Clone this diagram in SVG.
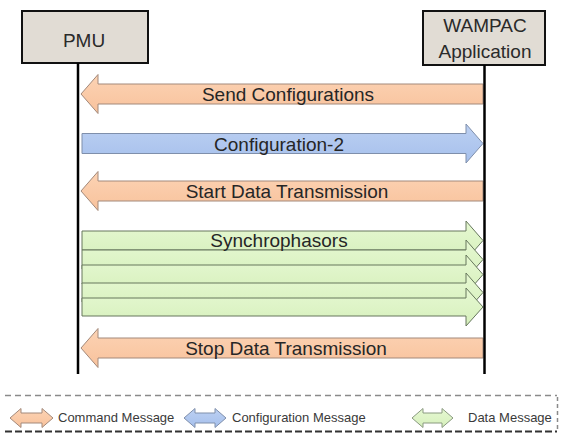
<svg xmlns="http://www.w3.org/2000/svg" width="563" height="439" viewBox="0 0 563 439">
<defs>
<linearGradient id="gOr" x1="0" y1="0" x2="0" y2="1"><stop offset="0" stop-color="#fcd3b4"/><stop offset="1" stop-color="#f8c29c"/></linearGradient>
<linearGradient id="gBl" x1="0" y1="0" x2="0" y2="1"><stop offset="0" stop-color="#bcd0f2"/><stop offset="1" stop-color="#a6c0ec"/></linearGradient>
<linearGradient id="gGr" x1="0" y1="0" x2="0" y2="1"><stop offset="0" stop-color="#e6f8d2"/><stop offset="1" stop-color="#d6f0bc"/></linearGradient>
</defs>
<style>
.box{fill:#e1dcd4;stroke:#111;stroke-width:2}
.nt{font-family:"Liberation Sans",Arial,sans-serif;font-size:19px;fill:#2a2a2a;text-anchor:middle}
.life{stroke:#000;stroke-width:2.5;fill:none}
.cmd{fill:url(#gOr);stroke:#a3897a;stroke-width:1}
.cfg{fill:url(#gBl);stroke:#7f8fab;stroke-width:1}
.dat{fill:url(#gGr);stroke:#66775c;stroke-width:1}
.lbl{font-family:"Liberation Sans",Arial,sans-serif;font-size:19px;fill:#262626;text-anchor:middle}
.lg{font-family:"Liberation Sans",Arial,sans-serif;font-size:13px;fill:#3a3a3a}
</style>
<rect width="563" height="439" fill="#ffffff"/>
<g id="pmu">
<rect class="box" x="22" y="11" width="126" height="52"/>
<text class="nt" x="84" y="47">PMU</text>
</g>
<g id="wampac">
<rect class="box" x="423" y="11" width="122" height="54"/>
<text class="nt" x="485" y="32">WAMPAC</text>
<text class="nt" x="485" y="58">Application</text>
</g>
<g id="connectors">
<g id="msg-send-config">
<path class="cmd" d="M81,94 L98,74.5 L98,84 L483,84 L483,104 L98,104 L98,113.5 Z"/>
<text class="lbl" x="288" y="101">Send Configurations</text>
</g>
<g id="msg-config2">
<path class="cfg" d="M82,133.5 L466,133.5 L466,124 L483,143.5 L466,163 L466,153.5 L82,153.5 Z"/>
<text class="lbl" x="279" y="150.5">Configuration-2</text>
</g>
<g id="msg-start">
<path class="cmd" d="M81,191 L98,171.5 L98,181 L483,181 L483,201 L98,201 L98,210.5 Z"/>
<text class="lbl" x="287" y="198">Start Data Transmission</text>
</g>
<g id="msg-synchro">
<path class="dat" d="M82,231 L466,231 L466,221 L483,240.5 L466,260 L466,250 L82,250 Z"/>
<path class="dat" d="M82,250 L466,250 L466,240 L483,259.5 L466,279 L466,269 L82,269 Z"/>
<path class="dat" d="M82,265 L466,265 L466,255 L483,274.5 L466,294 L466,284 L82,284 Z"/>
<path class="dat" d="M82,283 L466,283 L466,273 L483,292.5 L466,312 L466,302 L82,302 Z"/>
<path class="dat" d="M82,298 L466,298 L466,288 L483,307 L466,326 L466,316 L82,316 Z"/>
<text class="lbl" x="279" y="247">Synchrophasors</text>
</g>
<g id="msg-stop">
<path class="cmd" d="M81,348 L98,328.5 L98,338 L483,338 L483,358 L98,358 L98,367.5 Z"/>
<text class="lbl" x="286" y="355">Stop Data Transmission</text>
</g>
<line class="life" x1="78" y1="63" x2="78" y2="374"/>
<line class="life" x1="484.5" y1="65" x2="484.5" y2="374"/>
</g>
<g id="legend">
<line x1="5" y1="395.5" x2="557" y2="395.5" stroke="#8a8a8a" stroke-width="1.5" stroke-dasharray="6 4"/>
<line x1="5" y1="431.5" x2="557" y2="431.5" stroke="#333" stroke-width="2" stroke-dasharray="7 3"/>
<line x1="557.5" y1="397" x2="557.5" y2="430" stroke="#8a8a8a" stroke-width="1.5" stroke-dasharray="4 3"/>
<path class="cmd" d="M10,418 L21,408.5 L21,413 L42,413 L42,408.5 L53,418 L42,427.5 L42,423 L21,423 L21,427.5 Z"/>
<text class="lg" x="58" y="422">Command Message</text>
<path class="cfg" d="M184,418 L195,408.5 L195,413 L215,413 L215,408.5 L226,418 L215,427.5 L215,423 L195,423 L195,427.5 Z"/>
<text class="lg" x="232" y="422">Configuration Message</text>
<path class="dat" d="M412,418 L423,408.5 L423,413 L442,413 L442,408.5 L453,418 L442,427.5 L442,423 L423,423 L423,427.5 Z" style="stroke:#8a9a80"/>
<text class="lg" x="468" y="422">Data Message</text>
</g>
</svg>
